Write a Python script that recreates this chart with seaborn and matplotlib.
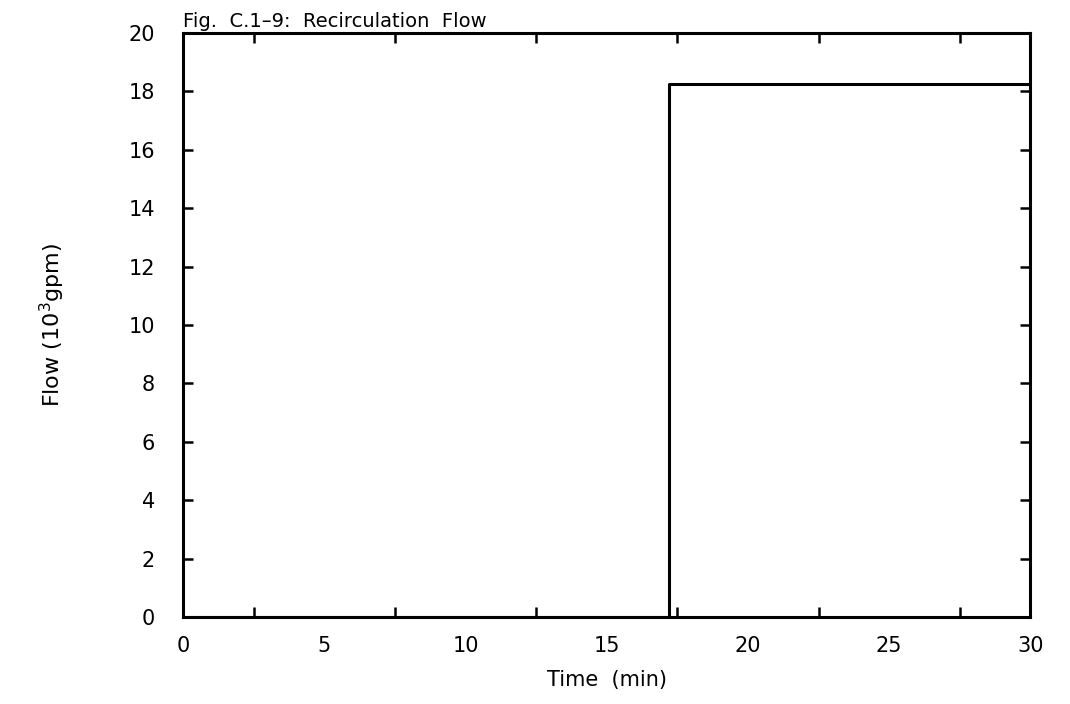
import matplotlib
matplotlib.use("Agg")
import matplotlib.pyplot as plt
from matplotlib.ticker import MultipleLocator
import pandas as pd
import seaborn as sns

# Recirculation flow step
time_min = [0.0, 17.2, 30.0]
flow_kgpm = [0.0, 18.25, 18.25]

x_ticks = [0, 5, 10, 15, 20, 25, 30]
y_ticks = [0, 2, 4, 6, 8, 10, 12, 14, 16, 18, 20]

df = pd.DataFrame({"time": time_min, "flow": flow_kgpm})

sns.set_style("ticks")
plt.rcParams['font.family'] = ['DejaVu Sans']
plt.rcParams['text.color'] = 'black'
plt.rcParams['axes.labelcolor'] = 'black'
plt.rcParams['xtick.color'] = 'black'
plt.rcParams['ytick.color'] = 'black'

fig = plt.figure(figsize=(10.7, 7.04), dpi=100)
ax = fig.add_axes([0.171, 0.1236, 0.792, 0.8295])

sns.lineplot(data=df, x="time", y="flow", drawstyle="steps-post",
             color="black", linewidth=2.2, ax=ax)

ax.set_xlim(0, 30)
ax.set_ylim(0, 20)
ax.set_xticks(x_ticks)
ax.set_yticks(y_ticks)
ax.xaxis.set_minor_locator(MultipleLocator(2.5))
ax.tick_params(axis="both", which="both", direction="in", top=True, right=True,
               width=1.8, color="black", labelcolor="black")
ax.tick_params(axis="both", which="major", length=0, labelsize=15)
ax.tick_params(axis="x", which="major", pad=14)
ax.tick_params(axis="y", which="major", pad=20)
ax.tick_params(axis="y", which="major", length=7)
ax.tick_params(axis="x", which="minor", length=7)
for s in ax.spines.values():
    s.set_linewidth(2.2)
    s.set_color("black")

ax.set_xlabel("Time  (min)", fontsize=15, labelpad=10, color="black")
ax.set_ylabel("Flow (10$^3$gpm)", fontsize=16, labelpad=44, color="black")
ax.set_title("Fig.  C.1\u20139:  Recirculation  Flow", loc="left", fontsize=14,
             pad=4, color="black")

fig.savefig("out.png", dpi=100, facecolor="white")
